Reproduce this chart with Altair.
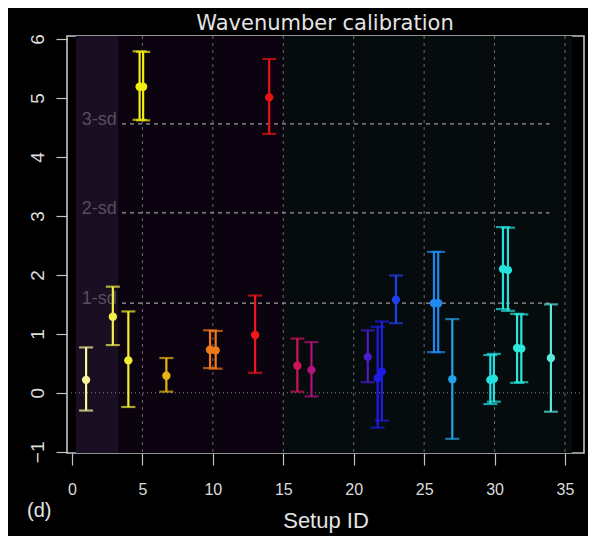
import altair as alt
import pandas as pd

# ---- data ----
setup_id = [1, 2.9, 4, 4.8, 5.05, 6.7, 9.8, 10.2, 13, 14, 16, 17, 21, 21.7, 22, 23,
            25.7, 26, 27, 29.7, 29.95, 30.6, 30.95, 31.6, 31.9, 34]
offset = [0.22, 1.29, 0.55, 5.19, 5.19, 0.29, 0.73, 0.72, 0.98, 5.01, 0.46, 0.39, 0.61,
          0.25, 0.36, 1.58, 1.52, 1.52, 0.23, 0.22, 0.24, 2.10, 2.08, 0.76, 0.75, 0.59]
lower = [-0.30, 0.81, -0.24, 4.63, 4.62, 0.02, 0.42, 0.41, 0.34, 4.39, 0.02, -0.06, 0.18,
         -0.59, -0.47, 1.18, 0.69, 0.69, -0.78, -0.19, -0.15, 1.42, 1.39, 0.17, 0.18, -0.32]
upper = [0.77, 1.80, 1.38, 5.79, 5.78, 0.59, 1.06, 1.05, 1.65, 5.66, 0.92, 0.86, 1.06,
         1.12, 1.21, 1.99, 2.39, 2.39, 1.25, 0.64, 0.66, 2.81, 2.80, 1.34, 1.33, 1.50]
colors = ["#f6f39a", "#f2ef48", "#f0ec30", "#f2ee10", "#f2ee10", "#e8b414", "#f07818",
          "#f07818", "#f01818", "#e81414", "#d0145c", "#b0147c", "#4a1ccc", "#1c1ce4",
          "#1c1ce4", "#1c40ea", "#1e8af0", "#1e8af0", "#22a2e8", "#22e2e2", "#22e2e2",
          "#22e2da", "#22e2da", "#2ae8da", "#2ae8da", "#58e8dc"]

band_start = [0.28, 3.27, 15.0]
band_end = [3.27, 15.0, 35.5]
band_colors = ["#1a0f22", "#0b0410", "#060b0e"]

grid_x = [5, 10, 15, 20, 25, 30, 35]

sd_levels = [1.52, 3.05, 4.56]
sd_labels = ["1-sd", "2-sd", "3-sd"]
sd_line_start = 3.55
sd_line_end = 33.9
sd_label_x = 0.7

x_domain = [-0.355, 36.35]
y_domain = [-1.02, 6.05]
x_ticks = [0, 5, 10, 15, 20, 25, 30, 35]
y_ticks = [-1, 0, 1, 2, 3, 4, 5, 6]

W, H = 517, 417

pts = pd.DataFrame({"x": setup_id, "y": offset, "lo": lower, "hi": upper, "c": colors})
bands = pd.DataFrame({"x0": band_start, "x1": band_end, "c": band_colors})
grid = pd.DataFrame({"x": grid_x})
sd = pd.DataFrame({"y": sd_levels, "label": sd_labels,
                   "xs": [sd_line_start] * 3, "xe": [sd_line_end] * 3,
                   "xl": [sd_label_x] * 3})
zero = pd.DataFrame({"y": [0]})

xs = alt.Scale(domain=x_domain, nice=False, zero=False)
ys = alt.Scale(domain=y_domain, nice=False, zero=False)

X = lambda f: alt.X(f, type="quantitative", scale=xs,
                    axis=alt.Axis(values=x_ticks, title=None, format="d"))
Y = lambda f: alt.Y(f, type="quantitative", scale=ys,
                    axis=alt.Axis(values=y_ticks, title=None, format="d"))

band_layer = alt.Chart(bands).mark_rect().encode(
    x=X("x0"), x2="x1", y=alt.value(0), y2=alt.value(H),
    color=alt.Color("c:N", scale=None))

grid_layer = alt.Chart(grid).mark_rule(color="#6c6c6c", strokeWidth=1,
                                       strokeDash=[3, 4]).encode(
    x=X("x"), y=alt.value(0), y2=alt.value(H))

zero_layer = alt.Chart(zero).mark_rule(color="#8a8a8a", strokeWidth=1,
                                       strokeDash=[1, 3]).encode(
    y=Y("y"), x=alt.value(0), x2=alt.value(W))

sd_layer = alt.Chart(sd).mark_rule(color="#9a9a9a", strokeWidth=1.3,
                                   strokeDash=[4, 4]).encode(
    y=Y("y"), x=X("xs"), x2="xe")

sd_text = alt.Chart(sd).mark_text(align="left", baseline="alphabetic", dy=1,
                                  font="Liberation Sans", fontSize=18,
                                  color="#564e5e").encode(
    x=X("xl"), y=Y("y"), text="label:N")

err = alt.Chart(pts).mark_rule(strokeWidth=2.2).encode(
    x=X("x"), y=Y("lo"), y2="hi", color=alt.Color("c:N", scale=None))

cap_lo = alt.Chart(pts).mark_tick(orient="horizontal", size=14, thickness=2.2).encode(
    x=X("x"), y=Y("lo"), color=alt.Color("c:N", scale=None))
cap_hi = alt.Chart(pts).mark_tick(orient="horizontal", size=14, thickness=2.2).encode(
    x=X("x"), y=Y("hi"), color=alt.Color("c:N", scale=None))

dots = alt.Chart(pts).mark_circle(size=70, opacity=1).encode(
    x=X("x"), y=Y("y"), color=alt.Color("c:N", scale=None))

one = pd.DataFrame({"t": [0]})
title_t = alt.Chart(one).mark_text(text="Wavenumber calibration", font="DejaVu Sans",
                                   fontSize=21, color="#e4e4e4", align="center",
                                   baseline="alphabetic").encode(
    x=alt.value(258), y=alt.value(-6))
xlab_t = alt.Chart(one).mark_text(text="Setup ID", font="Liberation Sans",
                                  fontSize=22, color="#e4e4e4", align="center",
                                  baseline="alphabetic").encode(
    x=alt.value(259), y=alt.value(492))
d_t = alt.Chart(one).mark_text(text="(d)", font="Liberation Sans",
                               fontSize=20, color="#e4e4e4", align="left",
                               baseline="alphabetic").encode(
    x=alt.value(-40), y=alt.value(481))

chart = alt.layer(band_layer, grid_layer, zero_layer, sd_layer, sd_text,
                  err, cap_lo, cap_hi, dots, title_t, xlab_t, d_t).properties(
    width=W, height=H,
    autosize=alt.AutoSizeParams(type="none"),
    padding={"left": 59, "top": 28, "right": 4, "bottom": 83},
    background="#000000",
).configure_view(
    stroke="#c4c4c4", strokeWidth=1.6, fill="#000000"
).configure_axis(
    domain=False, grid=False, ticks=True, tickColor="#c4c4c4", tickWidth=1.2,
    labelColor="#dcdcdc", labelFont="Liberation Sans"
).configure_axisX(
    tickSize=12, labelFontSize=16, labelPadding=29, labelBaseline="alphabetic"
).configure_axisY(
    tickSize=11, labelFontSize=19, labelPadding=13, labelAngle=270,
    labelAlign="center", labelBaseline="alphabetic"
)

chart.save("out.html", embed_options={"renderer": "svg", "actions": False})
